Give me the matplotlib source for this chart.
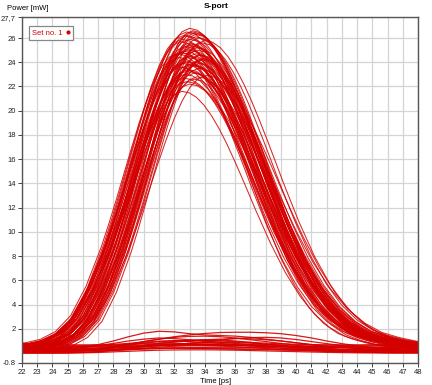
import numpy as np
import matplotlib
matplotlib.use("Agg")
import matplotlib.pyplot as plt
from matplotlib.lines import Line2D

pulse_dt = [-13, -12, -11, -10, -9, -8, -7, -6, -5,
            -4.5, -4, -3.5, -3, -2.5, -2, -1.5, -1, -0.5, 0,
            0.5, 1, 1.5, 2, 2.5, 3, 3.5, 4, 4.5,
            5, 6, 7, 8, 9, 10, 11, 12, 13, 14, 15, 16]
pulse_rel = [0.0, 0.0, 0.001, 0.006, 0.018, 0.045, 0.100, 0.200, 0.335,
             0.415, 0.500, 0.589, 0.678, 0.763, 0.841, 0.907, 0.958, 0.989, 1.0,
             0.994, 0.976, 0.946, 0.906, 0.857, 0.801, 0.739, 0.674, 0.607,
             0.539, 0.411, 0.298, 0.206, 0.135, 0.085, 0.052, 0.034, 0.021, 0.012, 0.006, 0.002]

# main traces: peak power [mW], peak time [ps], width factor, baseline [mW]
peaks = [26.8, 26.6, 26.5, 26.3, 26.2, 26.0, 25.9, 25.7, 25.6, 25.5,
         25.3, 25.2, 25.0, 24.9, 24.8, 24.6, 24.5, 24.4, 24.3, 24.1,
         24.0, 23.9, 23.8, 23.6, 23.5, 23.4, 23.2, 23.0, 22.8, 22.6,
         22.4, 22.2, 21.6, 25.8, 24.7, 24.2, 23.7, 26.4, 25.1, 22.9,
         25.4, 24.9, 26.1, 23.3, 24.6, 25.9, 23.8, 24.3, 26.5, 22.7,
         25.0, 24.0, 25.6, 23.1, 24.8, 25.3, 24.4, 23.9, 26.2, 24.7]
centers = [33.0, 33.2, 32.8, 33.4, 32.6, 33.6, 33.0, 32.4, 33.8, 33.1,
           32.7, 33.5, 32.9, 33.3, 32.5, 33.7, 33.0, 32.3, 33.9, 32.8,
           33.4, 32.6, 33.2, 32.4, 33.6, 32.9, 33.1, 32.7, 33.5, 33.3,
           32.8, 33.0, 32.5, 34.0, 32.2, 33.8, 33.3, 33.3, 32.9, 34.1,
           33.1, 32.7, 33.4, 32.9, 33.6, 32.5, 33.0, 33.8, 33.2, 32.6,
           33.5, 32.8, 33.0, 33.3, 32.4, 33.2, 32.9, 33.6, 32.8, 33.4]
widths = [1.00, 0.97, 1.03, 0.95, 1.05, 0.98, 1.08, 0.94, 1.02, 1.00,
          0.96, 1.04, 1.10, 0.93, 1.01, 0.99, 1.06, 0.97, 0.95, 1.03,
          1.00, 1.07, 0.92, 1.02, 0.98, 1.05, 0.96, 1.01, 1.04, 0.94,
          1.09, 0.99, 0.97, 1.03, 1.00, 0.96, 1.12, 1.02, 0.95, 1.06,
          1.00, 1.02, 0.98, 1.04, 0.96, 1.01, 1.05, 0.97, 1.00, 1.03,
          0.99, 1.06, 0.95, 1.02, 1.00, 0.98, 1.03, 1.01, 0.97, 1.04]
bases = [0.4, 0.3, 0.5, 0.6, 0.2, 0.4, 0.5, 0.3, 0.6, 0.4,
         0.2, 0.5, 0.3, 0.7, 0.4, 0.5, 0.3, 0.6, 0.2, 0.4,
         0.5, 0.3, 0.4, 0.6, 0.2, 0.5, 0.4, 0.3, 0.6, 0.4,
         0.5, 0.2, 0.3, 0.4, 0.7, 0.3, 0.5, 0.4, 0.6, 0.3,
         0.5, 0.3, 0.4, 0.6, 0.2, 0.5, 0.3, 0.4, 0.7, 0.5,
         0.3, 0.6, 0.4, 0.2, 0.5, 0.4, 0.6, 0.3, 0.5, 0.4]

# low traces sampled every ps from 22 to 48
low_t = list(range(22, 49))
low_traces = [
    [0.5, 0.4, 0.4, 0.45, 0.55, 0.7, 1.0, 1.35, 1.65, 1.8, 1.75, 1.6, 1.5, 1.45, 1.4, 1.3, 1.15, 1.0, 0.85, 0.7, 0.55, 0.45, 0.4, 0.35, 0.35, 0.35, 0.35],
    [0.3, 0.3, 0.3, 0.3, 0.35, 0.4, 0.55, 0.75, 0.95, 1.15, 1.35, 1.5, 1.62, 1.7, 1.72, 1.72, 1.68, 1.6, 1.45, 1.25, 1.0, 0.78, 0.6, 0.45, 0.35, 0.3, 0.3],
    [0.2, 0.2, 0.2, 0.2, 0.25, 0.35, 0.5, 0.7, 0.95, 1.15, 1.3, 1.38, 1.4, 1.35, 1.25, 1.1, 0.95, 0.8, 0.65, 0.5, 0.4, 0.3, 0.25, 0.2, 0.2, 0.2, 0.2],
    [0.4, 0.35, 0.35, 0.4, 0.45, 0.6, 0.8, 1.0, 1.15, 1.25, 1.2, 1.1, 1.0, 0.9, 0.8, 0.7, 0.6, 0.5, 0.45, 0.4, 0.35, 0.3, 0.3, 0.3, 0.3, 0.3, 0.3],
    [0.3, 0.3, 0.3, 0.3, 0.3, 0.35, 0.4, 0.5, 0.65, 0.8, 0.9, 1.0, 1.1, 1.15, 1.2, 1.18, 1.1, 1.0, 0.85, 0.7, 0.55, 0.45, 0.38, 0.32, 0.3, 0.3, 0.3],
    [0.1, 0.1, 0.1, 0.12, 0.18, 0.3, 0.45, 0.65, 0.82, 0.95, 1.0, 0.95, 0.88, 0.8, 0.7, 0.6, 0.5, 0.4, 0.32, 0.25, 0.2, 0.15, 0.12, 0.1, 0.1, 0.1, 0.1],
    [0.2, 0.2, 0.2, 0.2, 0.2, 0.22, 0.28, 0.38, 0.5, 0.62, 0.72, 0.8, 0.86, 0.9, 0.88, 0.82, 0.74, 0.65, 0.55, 0.45, 0.36, 0.3, 0.25, 0.22, 0.2, 0.2, 0.2],
    [0.0, 0.0, 0.0, 0.02, 0.05, 0.12, 0.25, 0.42, 0.62, 0.8, 0.95, 1.05, 1.1, 1.08, 1.0, 0.88, 0.74, 0.6, 0.46, 0.34, 0.24, 0.16, 0.1, 0.06, 0.04, 0.02, 0.02],
    [0.5, 0.5, 0.5, 0.5, 0.52, 0.58, 0.66, 0.74, 0.8, 0.82, 0.8, 0.76, 0.72, 0.68, 0.64, 0.6, 0.57, 0.55, 0.53, 0.52, 0.51, 0.5, 0.5, 0.5, 0.5, 0.5, 0.5],
    [0.05, 0.05, 0.05, 0.05, 0.08, 0.12, 0.2, 0.3, 0.4, 0.5, 0.56, 0.6, 0.6, 0.58, 0.52, 0.45, 0.38, 0.3, 0.24, 0.18, 0.13, 0.1, 0.08, 0.06, 0.05, 0.05, 0.05],
    [0.4, 0.4, 0.4, 0.4, 0.4, 0.4, 0.42, 0.46, 0.52, 0.6, 0.7, 0.82, 0.95, 1.08, 1.2, 1.28, 1.3, 1.25, 1.12, 0.95, 0.78, 0.62, 0.5, 0.44, 0.4, 0.4, 0.4],
    [0.8, 0.75, 0.7, 0.68, 0.66, 0.65, 0.65, 0.66, 0.68, 0.7, 0.72, 0.74, 0.75, 0.75, 0.74, 0.72, 0.7, 0.68, 0.66, 0.65, 0.65, 0.65, 0.66, 0.68, 0.7, 0.72, 0.75],
    [0.1, 0.1, 0.12, 0.15, 0.2, 0.25, 0.3, 0.35, 0.4, 0.42, 0.42, 0.4, 0.38, 0.35, 0.32, 0.3, 0.28, 0.25, 0.22, 0.2, 0.18, 0.15, 0.12, 0.1, 0.1, 0.1, 0.1],
    [0.6, 0.6, 0.58, 0.56, 0.55, 0.55, 0.56, 0.58, 0.6, 0.62, 0.63, 0.64, 0.64, 0.63, 0.62, 0.6, 0.58, 0.57, 0.56, 0.55, 0.55, 0.56, 0.57, 0.58, 0.6, 0.6, 0.6],
    [0.3, 0.3, 0.28, 0.27, 0.27, 0.28, 0.3, 0.33, 0.36, 0.38, 0.4, 0.4, 0.39, 0.38, 0.36, 0.34, 0.32, 0.3, 0.29, 0.28, 0.28, 0.28, 0.29, 0.3, 0.3, 0.3, 0.3],
    [0.45, 0.44, 0.43, 0.42, 0.42, 0.44, 0.48, 0.54, 0.6, 0.66, 0.7, 0.72, 0.72, 0.7, 0.67, 0.63, 0.59, 0.55, 0.51, 0.48, 0.46, 0.45, 0.44, 0.44, 0.45, 0.45, 0.45],
    [0.0, 0.0, 0.0, 0.0, 0.02, 0.05, 0.1, 0.15, 0.2, 0.24, 0.26, 0.27, 0.27, 0.26, 0.24, 0.21, 0.18, 0.15, 0.12, 0.09, 0.06, 0.04, 0.02, 0.01, 0.0, 0.0, 0.0],
    [0.7, 0.68, 0.66, 0.65, 0.65, 0.67, 0.72, 0.8, 0.9, 0.98, 1.04, 1.06, 1.05, 1.0, 0.94, 0.88, 0.82, 0.77, 0.73, 0.7, 0.68, 0.67, 0.66, 0.66, 0.67, 0.68, 0.7],
    [0.15, 0.15, 0.15, 0.15, 0.16, 0.18, 0.22, 0.27, 0.33, 0.38, 0.42, 0.45, 0.47, 0.48, 0.48, 0.47, 0.45, 0.42, 0.38, 0.33, 0.28, 0.23, 0.2, 0.17, 0.16, 0.15, 0.15],
]

xticks = list(range(22, 49))
yticks = [-0.8, 2, 4, 6, 8, 10, 12, 14, 16, 18, 20, 22, 24, 26, 27.7]
ytick_labels = ["-0.8", "2", "4", "6", "8", "10", "12", "14", "16", "18", "20", "22", "24", "26", "27,7"]

red = "#d40000"
plt.rcParams['font.family'] = ['Liberation Sans', 'DejaVu Sans']

fig = plt.figure(figsize=(4.32, 3.85), dpi=100)
ax = fig.add_axes([0.0509, 0.0577, 0.9167, 0.8971])

dt = np.array(pulse_dt)
rel = np.array(pulse_rel)
for pk, c, w, b in zip(peaks, centers, widths, bases):
    ax.plot(c + dt * w, b + (pk - b) * rel, color=red, lw=0.75, alpha=0.85)

for tr in low_traces:
    ax.plot(low_t, tr, color=red, lw=0.9, alpha=0.9)

ax.set_xlim(22, 48)
ax.set_ylim(-0.8, 27.7)
ax.set_xticks(xticks)
ax.set_xticklabels([str(v) for v in xticks])
ax.set_yticks(yticks)
ax.set_yticklabels(ytick_labels)
ax.tick_params(labelsize=5.5, length=3, width=0.6, colors='#222222', pad=1.5)
ax.grid(True, color='#d4d4d4', lw=0.9)
ax.set_axisbelow(True)
for s in ax.spines.values():
    s.set_color('#555555')
    s.set_linewidth(1.0)

fig.text(0.5, 0.982, "S-port", ha='center', va='center', fontsize=6, fontweight='bold')
fig.text(0.016, 0.978, "Power [mW]", ha='left', va='center', fontsize=5.5)
fig.text(0.5, 0.008, "Time [ps]", ha='center', va='center', fontsize=5.5)

h = Line2D([], [], color=red, marker='o', markersize=2, lw=0)
leg = ax.legend([h], ["Set no. 1"], loc='upper left', markerfirst=False, fontsize=5.5,
                fancybox=False, edgecolor='#888888', framealpha=1, handlelength=0.6,
                handletextpad=0.4, borderpad=0.4, bbox_to_anchor=(0.008, 0.985))
for t in leg.get_texts():
    t.set_color(red)
leg.get_frame().set_linewidth(0.9)

fig.savefig("out.png", dpi=100)
